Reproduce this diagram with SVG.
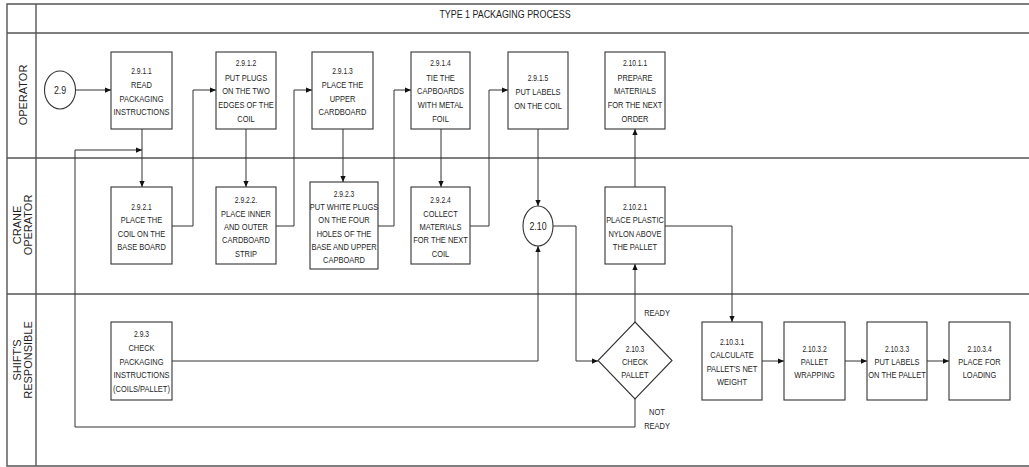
<svg xmlns="http://www.w3.org/2000/svg" width="1029" height="467" viewBox="0 0 1029 467">
  <style>
    .frame { fill: none; stroke: #555; stroke-width: 1.4; }
    .box { fill: #fff; stroke: #333; stroke-width: 1.1; }
    .wire { fill: none; stroke: #333; stroke-width: 1; }
    text { font-family: "Liberation Sans", Arial, sans-serif; fill: #1e1e1e; text-anchor: middle; }
    .t { font-size: 9.6px; }
    .id { font-size: 8.6px; }
    .lane { font-size: 11px; }
    .title { font-size: 11.4px; }
    .circ { font-size: 11px; }
  </style>
  <defs>
    <marker id="arr" viewBox="0 0 8 8" refX="8" refY="4" markerWidth="6" markerHeight="6" orient="auto" markerUnits="userSpaceOnUse">
      <path d="M0,0.5 L8,4 L0,7.5 z" fill="#111"/>
    </marker>
  </defs>

  <rect width="1029" height="467" fill="#fff"/>

  <!-- pool frame and swimlanes -->
  <g id="frame">
    <path class="frame" d="M1029,4 H7 V466 H1029"/>
    <path class="frame" d="M36,4 V466"/>
    <path class="frame" d="M7,33 H1029 M7,158 H1029 M7,294 H1029"/>
    <g transform="translate(505 0) scale(0.78 1)"><text class="title" y="18">TYPE 1 PACKAGING PROCESS</text></g>
    <text class="lane" transform="translate(26.5 95) rotate(-90)">OPERATOR</text>
    <text class="lane" transform="translate(20.7 225) rotate(-90)">CRANE</text>
    <text class="lane" transform="translate(31.7 225) rotate(-90)">OPERATOR</text>
    <text class="lane" transform="translate(20.7 360) rotate(-90)">SHIFT'S</text>
    <text class="lane" transform="translate(31.7 360) rotate(-90)">RESPONSIBLE</text>
  </g>

  <!-- connectors -->
  <g id="connectors">
    <path class="wire" marker-end="url(#arr)" d="M75,90 H111"/>
    <path class="wire" marker-end="url(#arr)" d="M142,129 V187"/>
    <path class="wire" marker-end="url(#arr)" d="M172,226 H193 V90 H216"/>
    <path class="wire" marker-end="url(#arr)" d="M246,129 V187"/>
    <path class="wire" marker-end="url(#arr)" d="M276,226 H294 V90 H312"/>
    <path class="wire" marker-end="url(#arr)" d="M343,129 V182"/>
    <path class="wire" marker-end="url(#arr)" d="M378,226 H394 V90 H411"/>
    <path class="wire" marker-end="url(#arr)" d="M441,129 V187"/>
    <path class="wire" marker-end="url(#arr)" d="M470,226 H489 V90 H508"/>
    <path class="wire" marker-end="url(#arr)" d="M538,129 V206"/>
    <path class="wire" marker-end="url(#arr)" d="M172,361 H538 V246"/>
    <path class="wire" marker-end="url(#arr)" d="M553,226 H576 V361 H598"/>
    <path class="wire" marker-end="url(#arr)" d="M635,322 V264"/>
    <path class="wire" marker-end="url(#arr)" d="M635,187 V129"/>
    <path class="wire" marker-end="url(#arr)" d="M665,226 H732 V322"/>
    <path class="wire" marker-end="url(#arr)" d="M635,399 V427 H75 V150 H142"/>
    <path class="wire" marker-end="url(#arr)" d="M762,361 H784"/>
    <path class="wire" marker-end="url(#arr)" d="M845,361 H867"/>
    <path class="wire" marker-end="url(#arr)" d="M927,361 H949"/>
    <g transform="translate(657 0) scale(0.78 1)">
      <text class="t" y="316">READY</text>
      <text class="t" y="415.5">NOT</text>
      <text class="t" y="429">READY</text>
    </g>
  </g>

  <!-- operator lane -->
  <g id="n2_9">
    <ellipse class="box" cx="60" cy="90" rx="15.5" ry="19"/>
    <g transform="translate(60 0) scale(0.8 1)"><text class="circ" y="94">2.9</text></g>
  </g>
  <g id="n2_9_1_1">
    <rect class="box" x="111" y="52" width="61" height="77"/>
    <g transform="translate(141.5 0) scale(0.78 1)">
      <text class="id" y="74">2.9.1.1</text>
      <text class="t" y="88.5">READ</text>
      <text class="t" y="102">PACKAGING</text>
      <text class="t" y="115.5">INSTRUCTIONS</text>
    </g>
  </g>
  <g id="n2_9_1_2">
    <rect class="box" x="216" y="52" width="60" height="77"/>
    <g transform="translate(246 0) scale(0.78 1)">
      <text class="id" y="66.5">2.9.1.2</text>
      <text class="t" y="80.8">PUT  PLUGS</text>
      <text class="t" y="94.2">ON THE TWO</text>
      <text class="t" y="108.2">EDGES OF THE</text>
      <text class="t" y="122.2">COIL</text>
    </g>
  </g>
  <g id="n2_9_1_3">
    <rect class="box" x="312" y="52" width="61" height="77"/>
    <g transform="translate(342.5 0) scale(0.78 1)">
      <text class="id" y="74">2.9.1.3</text>
      <text class="t" y="88.5">PLACE THE</text>
      <text class="t" y="102">UPPER</text>
      <text class="t" y="115.5">CARDBOARD</text>
    </g>
  </g>
  <g id="n2_9_1_4">
    <rect class="box" x="411" y="52" width="59" height="77"/>
    <g transform="translate(440.5 0) scale(0.78 1)">
      <text class="id" y="66.5">2.9.1.4</text>
      <text class="t" y="80.8">TIE THE</text>
      <text class="t" y="94.2">CAPBOARDS</text>
      <text class="t" y="108.2">WITH METAL</text>
      <text class="t" y="122.2">FOIL</text>
    </g>
  </g>
  <g id="n2_9_1_5">
    <rect class="box" x="508" y="52" width="60" height="77"/>
    <g transform="translate(538 0) scale(0.78 1)">
      <text class="id" y="81">2.9.1.5</text>
      <text class="t" y="94.8">PUT LABELS</text>
      <text class="t" y="108.8">ON THE COIL</text>
    </g>
  </g>
  <g id="n2_10_1_1">
    <rect class="box" x="605" y="52" width="60" height="77"/>
    <g transform="translate(635 0) scale(0.78 1)">
      <text class="id" y="66.5">2.10.1.1</text>
      <text class="t" y="80.8">PREPARE</text>
      <text class="t" y="94.2">MATERIALS</text>
      <text class="t" y="108.2">FOR THE NEXT</text>
      <text class="t" y="122.2">ORDER</text>
    </g>
  </g>

  <!-- crane operator lane -->
  <g id="n2_9_2_1">
    <rect class="box" x="111" y="187" width="61" height="77"/>
    <g transform="translate(141.5 0) scale(0.78 1)">
      <text class="id" y="210">2.9.2.1</text>
      <text class="t" y="223.5">PLACE THE</text>
      <text class="t" y="236.8">COIL ON THE</text>
      <text class="t" y="250.2">BASE BOARD</text>
    </g>
  </g>
  <g id="n2_9_2_2">
    <rect class="box" x="216" y="187" width="60" height="77"/>
    <g transform="translate(246 0) scale(0.78 1)">
      <text class="id" y="203.3">2.9.2.2.</text>
      <text class="t" y="216.8">PLACE INNER</text>
      <text class="t" y="230.2">AND OUTER</text>
      <text class="t" y="243.5">CARDBOARD</text>
      <text class="t" y="256.8">STRIP</text>
    </g>
  </g>
  <g id="n2_9_2_3">
    <rect class="box" x="310" y="182" width="68" height="87"/>
    <g transform="translate(344 0) scale(0.78 1)">
      <text class="id" y="196.6">2.9.2.3</text>
      <text class="t" y="210.2">PUT WHITE PLUGS</text>
      <text class="t" y="223.5">ON THE FOUR</text>
      <text class="t" y="236.8">HOLES OF THE</text>
      <text class="t" y="250.2">BASE AND UPPER</text>
      <text class="t" y="263.5">CAPBOARD</text>
    </g>
  </g>
  <g id="n2_9_2_4">
    <rect class="box" x="411" y="187" width="59" height="77"/>
    <g transform="translate(440.5 0) scale(0.78 1)">
      <text class="id" y="203.3">2.9.2.4</text>
      <text class="t" y="216.8">COLLECT</text>
      <text class="t" y="230.2">MATERIALS</text>
      <text class="t" y="243.5">FOR THE NEXT</text>
      <text class="t" y="256.8">COIL</text>
    </g>
  </g>
  <g id="n2_10">
    <ellipse class="box" cx="538" cy="226" rx="15" ry="20"/>
    <g transform="translate(538 0) scale(0.8 1)"><text class="circ" y="230">2.10</text></g>
  </g>
  <g id="n2_10_2_1">
    <rect class="box" x="605" y="187" width="60" height="77"/>
    <g transform="translate(635 0) scale(0.78 1)">
      <text class="id" y="210">2.10.2.1</text>
      <text class="t" y="223.5">PLACE PLASTIC</text>
      <text class="t" y="236.8">NYLON ABOVE</text>
      <text class="t" y="250.2">THE PALLET</text>
    </g>
  </g>

  <!-- shift's responsible lane -->
  <g id="n2_9_3">
    <rect class="box" x="111" y="322" width="61" height="78"/>
    <g transform="translate(141.5 0) scale(0.78 1)">
      <text class="id" y="337.3">2.9.3</text>
      <text class="t" y="351.5">CHECK</text>
      <text class="t" y="364.8">PACKAGING</text>
      <text class="t" y="378.2">INSTRUCTIONS</text>
      <text class="t" y="392.2">(COILS/PALLET)</text>
    </g>
  </g>
  <g id="n2_10_3">
    <path class="box" d="M635,322 L672,360.5 L635,399 L598,360.5 z"/>
    <g transform="translate(635 0) scale(0.78 1)">
      <text class="id" y="351.6">2.10.3</text>
      <text class="t" y="364.8">CHECK</text>
      <text class="t" y="378.5">PALLET</text>
    </g>
  </g>
  <g id="n2_10_3_1">
    <rect class="box" x="702" y="322" width="60" height="78"/>
    <g transform="translate(732 0) scale(0.78 1)">
      <text class="id" y="345">2.10.3.1</text>
      <text class="t" y="358.5">CALCULATE</text>
      <text class="t" y="371.8">PALLET'S NET</text>
      <text class="t" y="385.2">WEIGHT</text>
    </g>
  </g>
  <g id="n2_10_3_2">
    <rect class="box" x="784" y="322" width="61" height="78"/>
    <g transform="translate(814.5 0) scale(0.78 1)">
      <text class="id" y="351.6">2.10.3.2</text>
      <text class="t" y="365.2">PALLET</text>
      <text class="t" y="378.5">WRAPPING</text>
    </g>
  </g>
  <g id="n2_10_3_3">
    <rect class="box" x="867" y="322" width="60" height="78"/>
    <g transform="translate(897 0) scale(0.78 1)">
      <text class="id" y="351.6">2.10.3.3</text>
      <text class="t" y="365.2">PUT LABELS</text>
      <text class="t" y="378.5">ON THE PALLET</text>
    </g>
  </g>
  <g id="n2_10_3_4">
    <rect class="box" x="949" y="322" width="61" height="78"/>
    <g transform="translate(979.5 0) scale(0.78 1)">
      <text class="id" y="351.6">2.10.3.4</text>
      <text class="t" y="365.2">PLACE FOR</text>
      <text class="t" y="378.5">LOADING</text>
    </g>
  </g>
</svg>
